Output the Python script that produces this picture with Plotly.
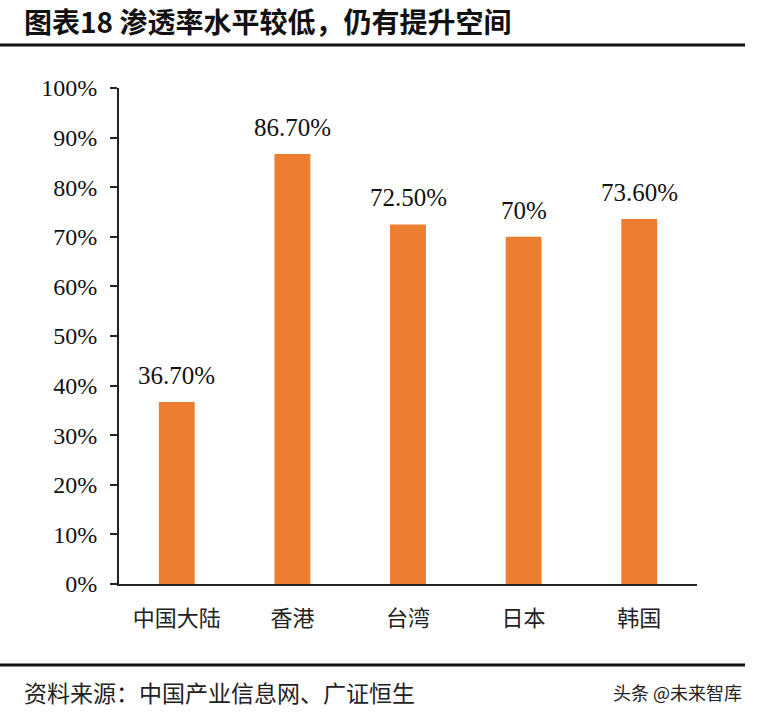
import plotly.graph_objects as go

categories = ["中国大陆", "香港", "台湾", "日本", "韩国"]
values = [0.367, 0.867, 0.725, 0.70, 0.736]
labels = ["36.70%", "86.70%", "72.50%", "70%", "73.60%"]
title_text = "图表18 渗透率水平较低，仍有提升空间"
source_text = "资料来源：中国产业信息网、广证恒生"
watermark_text = "头条 @未来智库"

W, H = 757, 721
L, R, T, B = 119, 60, 88, 137
pw, ph = W - L - R, H - T - B

def px(x):
    return (x - L) / pw

def py(y):
    return (H - B - y) / ph

fig = go.Figure()
fig.add_trace(go.Bar(
    x=categories, y=values,
    marker=dict(color="#ED7D31", line=dict(width=0)),
    width=0.31,
))

for c, v, t in zip(categories, values, labels):
    fig.add_annotation(x=c, y=v, text=t, showarrow=False, yanchor="bottom",
                       yshift=11,
                       font=dict(family="Liberation Serif", size=25, color="#111"))

fig.update_layout(
    width=W, height=H, margin=dict(l=L, r=R, t=T, b=B),
    paper_bgcolor="white", plot_bgcolor="white", showlegend=False,
    xaxis=dict(showline=True, linecolor="#222", linewidth=2, ticks="",
               tickfont=dict(family="Noto Sans CJK SC", size=22, color="#222"),
               ticklabelstandoff=14, showgrid=False),
    yaxis=dict(range=[0, 1], dtick=0.1, tickformat=".0%", showline=True,
               linecolor="#222", linewidth=2, ticks="outside", ticklen=7,
               tickwidth=2, tickcolor="#222", showgrid=False, zeroline=False,
               tickfont=dict(family="Liberation Serif", size=24, color="#111"),
               ticklabelstandoff=8),
)

shapes = [
    dict(type="line", xref="paper", yref="paper", x0=px(0), x1=px(745),
         y0=py(45), y1=py(45), line=dict(color="#111", width=3)),
    dict(type="line", xref="paper", yref="paper", x0=px(0), x1=px(745),
         y0=py(665), y1=py(665), line=dict(color="#111", width=3)),
    dict(type="line", xref="paper", yref="paper", x0=px(112), x1=px(119),
         y0=0, y1=0, line=dict(color="#222", width=2)),
]
fig.update_layout(shapes=shapes)

fig.add_annotation(text="<b>" + title_text + "</b>", xref="paper", yref="paper",
                   x=px(22), y=py(21), xanchor="left", yanchor="middle",
                   showarrow=False,
                   font=dict(family="Noto Sans CJK SC", size=28, color="#111"))
fig.add_annotation(text=source_text, xref="paper", yref="paper",
                   x=px(22), y=py(692), xanchor="left", yanchor="middle",
                   showarrow=False,
                   font=dict(family="Noto Sans CJK SC", size=23, color="#222"))
fig.add_annotation(text=watermark_text, xref="paper", yref="paper",
                   x=px(744), y=py(692), xanchor="right", yanchor="middle",
                   showarrow=False,
                   font=dict(family="Noto Sans CJK SC", size=18, color="#222"))

fig.write_html("out.html")
